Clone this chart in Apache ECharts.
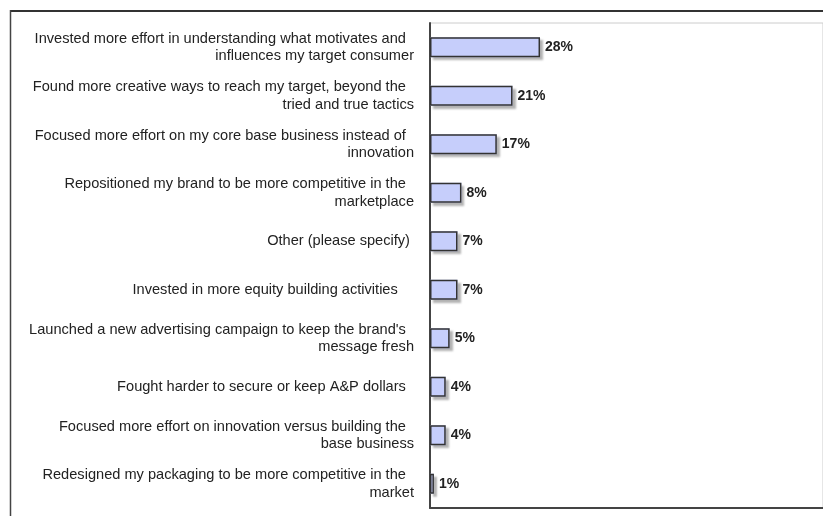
<!DOCTYPE html>
<html>
<head>
<meta charset="utf-8">
<script src="https://cdn.jsdelivr.net/npm/echarts@6/dist/echarts.min.js"></script>
<style>
html,body{margin:0;padding:0;background:#fff;}
#c{width:823px;height:516px;}
</style>
</head>
<body>
<div id="c"></div>
<script>
var categories = [
  "Invested more effort in understanding what motivates and  \ninfluences my target consumer",
  "Found more creative ways to reach my target, beyond the  \ntried and true tactics",
  "Focused more effort on my core base business instead of  \ninnovation",
  "Repositioned my brand to be more competitive in the  \nmarketplace",
  "Other (please specify) ",
  "Invested in more equity building activities    ",
  "Launched a new advertising campaign to keep the brand's  \nmessage fresh",
  "Fought harder to secure or keep A&P dollars  ",
  "Focused more effort on innovation versus building the  \nbase business",
  "Redesigned my packaging to be more competitive in the  \nmarket"
];
var values = [28, 21, 17, 8, 7, 7, 5, 4, 4, 1];

var FONT = 'Liberation Sans, Arial, Helvetica, sans-serif';
var chart = echarts.init(document.getElementById('c'), null, {renderer: 'canvas'});
chart.setOption({
  animation: false,
  backgroundColor: '#ffffff',
  graphic: [
    {type: 'line', shape: {x1: 10, y1: 11, x2: 823, y2: 11}, style: {stroke: '#333', lineWidth: 2}},
    {type: 'line', shape: {x1: 10.5, y1: 10, x2: 10.5, y2: 516}, style: {stroke: '#444', lineWidth: 1.5}}
  ],
  grid: {
    left: 430, top: 23, right: 0, bottom: 8,
    show: true, borderColor: '#cccccc', borderWidth: 1, backgroundColor: 'transparent'
  },
  xAxis: {
    type: 'value', min: 0, max: 100,
    axisLine: {show: true, lineStyle: {color: '#444', width: 2}},
    axisTick: {show: false}, axisLabel: {show: false}, splitLine: {show: false}
  },
  yAxis: {
    type: 'category', inverse: true, data: categories,
    axisLine: {show: true, lineStyle: {color: '#444', width: 2}},
    axisTick: {show: false},
    axisLabel: {
      margin: 16, color: '#222', fontSize: 14.6, lineHeight: 17.5,
      fontFamily: FONT, align: 'right'
    }
  },
  series: [{
    type: 'bar', data: values, barWidth: 20, z: 2,
    itemStyle: {
      color: '#c6cefb', borderWidth: 0,
      shadowColor: 'rgba(0,0,0,0.3)', shadowOffsetX: 3, shadowOffsetY: 3, shadowBlur: 2
    },
    label: {show: false}
  }, {
    type: 'bar', data: values, barWidth: 20, barGap: '-100%', z: 3,
    itemStyle: {color: 'rgba(0,0,0,0)', borderColor: '#333', borderWidth: 1.5},
    label: {
      show: true, position: 'right', distance: 5, formatter: '{c}%',
      fontWeight: 'bold', fontSize: 14, color: '#222', fontFamily: FONT
    }
  }]
});
</script>
</body>
</html>
